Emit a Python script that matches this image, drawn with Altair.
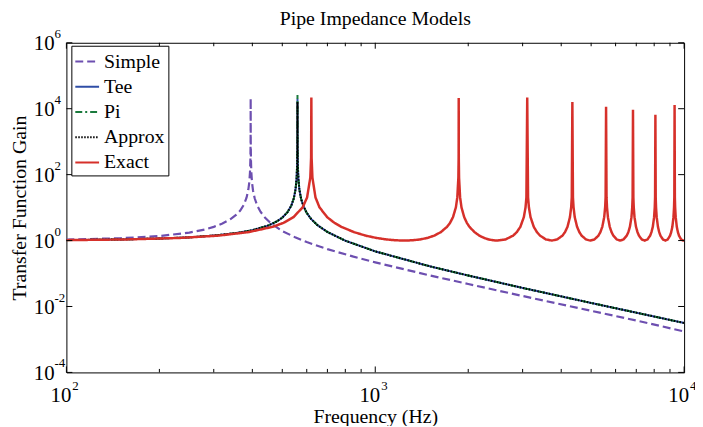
import altair as alt
import pandas as pd

SERIF = "Liberation Serif"

models = ["Simple", "Tee", "Pi", "Approx", "Exact"]
colors = ["#6d4fb0", "#2f4ea6", "#1a7a3c", "#000000", "#d6302a"]
dashes = [[8, 4], [1, 0], [7, 3, 2, 3], [1.5, 1.5], [1, 0]]
widths = [2.2, 2.0, 2.0, 2.0, 2.5]

# ---- Simple model (single resonance near 395 Hz)
simple_freq = [100, 150, 200, 250, 280, 300, 320, 340, 355, 365, 375, 383, 388, 391, 393, 394.2, 394.8,
               395,
               395.2, 395.8, 397, 399, 402, 407, 415, 425, 440, 460, 500, 550, 600, 700, 850, 1000,
               1500, 2000, 3000, 5000, 7000, 10000]
simple_gain = [1.07, 1.18, 1.37, 1.74, 2.15, 2.6, 3.3, 4.5, 6.1, 8.0, 12, 20, 34, 59, 118, 295, 1180,
               21000,
               1180, 295, 117, 58, 33, 19.2, 11.4, 7.5, 4.9, 3.3, 1.95, 1.26, 0.9, 0.55, 0.325, 0.218,
               0.088, 0.048, 0.0208, 0.0074, 0.00376, 0.00175]

# ---- Lumped models (Tee, Pi, Approx overlap; resonance near 560 Hz)
lumped_freq = [100, 150, 200, 250, 300, 350, 400, 450, 480, 500, 520, 535, 545, 552, 556, 558.5, 559.6,
               560,
               560.4, 561.5, 564, 568, 575, 585, 600, 620, 650, 700, 800, 1000, 1500, 2000, 3000,
               5000, 7000, 10000]
lumped_left = [1.03, 1.08, 1.15, 1.25, 1.42, 1.66, 2.06, 2.85, 3.8, 4.95, 7.3, 11.6, 19.2, 36, 72, 190, 700]
lumped_right = [700, 190, 71, 35.5, 18.8, 11.2, 6.9, 4.5, 2.93, 1.82, 0.99, 0.47, 0.166, 0.087, 0.0366,
                0.0128, 0.0065, 0.00316]
tee_peak = 20000
pi_peak = 26000
approx_peak = 16000

# ---- Exact model (odd harmonics of ~621 Hz)
exact_freq = [
    100, 155.3, 232.9, 310.5, 388.1, 465.8, 504.6, 543.4, 582.2, 601.6, 616.2, 619.8, 621,
    622.2, 625.9, 640.4, 659.8, 698.6, 737.4, 776.3, 853.9, 931.5, 1009.1, 1086.8, 1164.4, 1242,
    1319.6, 1397.3, 1474.9, 1552.5, 1630.1, 1707.8, 1746.6, 1785.4, 1824.2, 1843.6, 1858.2, 1861.8, 1863,
    1864.2, 1867.9, 1882.4, 1901.8, 1940.6, 1979.4, 2018.3, 2095.9, 2173.5, 2251.1, 2328.8, 2406.4, 2484,
    2639.3, 2794.5, 2872.1, 2949.8, 3027.4, 3066.2, 3085.6, 3105,
    3124.4, 3143.8, 3182.6, 3260.3, 3337.9, 3415.5, 3570.8, 3726,
    3881.3, 4036.5, 4114.1, 4191.8, 4269.4, 4308.2, 4327.6, 4347,
    4366.4, 4385.8, 4424.6, 4502.3, 4579.9, 4657.5, 4812.8, 4968,
    5123.3, 5278.5, 5356.1, 5433.8, 5511.4, 5550.2, 5569.6, 5589,
    5608.4, 5627.8, 5666.6, 5744.3, 5821.9, 5899.5, 6054.8, 6210,
    6365.3, 6520.5, 6598.1, 6675.8, 6753.4, 6792.2, 6811.6, 6831,
    6850.4, 6869.8, 6908.6, 6986.3, 7063.9, 7141.5, 7296.8, 7452,
    7607.3, 7762.5, 7840.1, 7917.8, 7995.4, 8034.2, 8053.6, 8073,
    8092.4, 8111.8, 8150.6, 8228.3, 8305.9, 8383.5, 8538.8, 8694,
    8849.3, 9004.5, 9082.1, 9159.8, 9237.4, 9276.2, 9295.6, 9315,
    9334.4, 9353.8, 9392.6, 9470.3, 9547.9, 9625.5, 9780.8, 9936, 10000]
exact_gain = [
    1.03, 1.08, 1.20, 1.41, 1.80, 2.61, 3.45, 5.13, 10.2, 20.4, 81.5, 326, 22000,
    326, 81.5, 20.4, 10.2, 5.13, 3.45, 2.61, 1.80, 1.41, 1.20, 1.08, 1.02, 1.00,
    1.02, 1.08, 1.20, 1.41, 1.80, 2.61, 3.45, 5.13, 10.2, 20.4, 81.5, 326, 21000,
    326, 81.5, 20.4, 10.2, 5.13, 3.45, 2.61, 1.80, 1.41, 1.20, 1.08, 1.02, 1.00,
    1.08, 1.41, 1.80, 2.61, 5.13, 10.2, 20.4, 22000,
    20.4, 10.2, 5.13, 2.61, 1.80, 1.41, 1.08, 1.00,
    1.08, 1.41, 1.80, 2.61, 5.13, 10.2, 20.4, 16000,
    20.4, 10.2, 5.13, 2.61, 1.80, 1.41, 1.08, 1.00,
    1.08, 1.41, 1.80, 2.61, 5.13, 10.2, 20.4, 11500,
    20.4, 10.2, 5.13, 2.61, 1.80, 1.41, 1.08, 1.00,
    1.08, 1.41, 1.80, 2.61, 5.13, 10.2, 20.4, 9300,
    20.4, 10.2, 5.13, 2.61, 1.80, 1.41, 1.08, 1.00,
    1.08, 1.41, 1.80, 2.61, 5.13, 10.2, 20.4, 6600,
    20.4, 10.2, 5.13, 2.61, 1.80, 1.41, 1.08, 1.00,
    1.08, 1.41, 1.80, 2.61, 5.13, 10.2, 20.4, 13000,
    20.4, 10.2, 5.13, 2.61, 1.80, 1.41, 1.08, 1.00, 1.01]

# ---- axis ticks / labels
x_major = [100, 1000, 10000]
x_major_exp = ["2", "3", "4"]
x_minor = [200, 300, 400, 500, 600, 700, 800, 900, 2000, 3000, 4000, 5000, 6000, 7000, 8000, 9000]
y_major = [1e-4, 1e-2, 1, 1e2, 1e4, 1e6]
y_major_exp = ["-4", "-2", "0", "2", "4", "6"]

series_data = {
    "Simple": (simple_freq, simple_gain),
    "Tee": (lumped_freq, lumped_left + [tee_peak] + lumped_right),
    "Pi": (lumped_freq, lumped_left + [pi_peak] + lumped_right),
    "Approx": (lumped_freq, lumped_left + [approx_peak] + lumped_right),
    "Exact": (exact_freq, exact_gain),
}
rows = []
for name, (fr, gn) in series_data.items():
    assert len(fr) == len(gn), name
    for f, g in zip(fr, gn):
        rows.append({"model": name, "freq": f, "gain": g})
df = pd.DataFrame(rows)

W, H = 624, 333
xs = alt.Scale(type="log", domain=[100, 10000], nice=False)
ys = alt.Scale(type="log", domain=[1e-4, 1e6], nice=False)
cs = alt.Scale(domain=models, range=colors)
ds = alt.Scale(domain=models, range=dashes)

xaxis = alt.Axis(labels=False, ticks=False, domain=False, grid=False, title="Frequency (Hz)",
                 titleFont=SERIF, titleFontSize=20, titleFontWeight="normal", titleColor="black",
                 titlePadding=35)
yaxis = alt.Axis(labels=False, ticks=False, domain=False, grid=False, title="Transfer Function Gain",
                 titleFont=SERIF, titleFontSize=20, titleFontWeight="normal", titleColor="black",
                 titlePadding=37)
leg = alt.Legend(title=None, orient="none", legendX=5, legendY=3,
                 fillColor="white", strokeColor="black", padding=3,
                 labelFont=SERIF, labelFontSize=20, labelColor="black",
                 symbolType="stroke", symbolSize=576, symbolStrokeWidth=2,
                 rowPadding=2.5, labelOffset=4, labelLimit=200)

layers = []
for name, w in zip(models, widths):
    layers.append(
        alt.Chart(df).transform_filter(alt.datum.model == name)
        .mark_line(strokeWidth=w, clip=True)
        .encode(
            x=alt.X("freq:Q", scale=xs, axis=xaxis),
            y=alt.Y("gain:Q", scale=ys, axis=yaxis),
            color=alt.Color("model:N", scale=cs, legend=leg),
            strokeDash=alt.StrokeDash("model:N", scale=ds, legend=leg),
        )
    )

xmaj = pd.DataFrame({"v": x_major, "e": x_major_exp})
xmin = pd.DataFrame({"v": x_minor})
ymaj = pd.DataFrame({"v": y_major, "e": y_major_exp})

def xrule(data, y0, y1):
    return alt.Chart(data).mark_rule(color="black", strokeWidth=1).encode(
        x=alt.X("v:Q", scale=xs, axis=xaxis), y=alt.value(y0), y2=alt.value(y1))

def yrule(data, x0, x1):
    return alt.Chart(data).mark_rule(color="black", strokeWidth=1).encode(
        y=alt.Y("v:Q", scale=ys, axis=yaxis), x=alt.value(x0), x2=alt.value(x1))

ticks = [
    xrule(xmaj, H, H - 6), xrule(xmaj, 0, 6),
    xrule(xmin, H, H - 3.5), xrule(xmin, 0, 3.5),
    yrule(ymaj, 0, 6), yrule(ymaj, W - 6, W),
]

ylab10 = alt.Chart(ymaj).mark_text(text="10", font=SERIF, fontSize=21, align="right",
                                   baseline="alphabetic", dy=7.5, color="black").encode(
    y=alt.Y("v:Q", scale=ys, axis=yaxis), x=alt.value(-12))
ylabexp = alt.Chart(ymaj).mark_text(font=SERIF, fontSize=13, align="left",
                                    baseline="alphabetic", dy=-5, color="black").encode(
    y=alt.Y("v:Q", scale=ys, axis=yaxis), x=alt.value(-12), text="e:N")
xlab10 = alt.Chart(xmaj).mark_text(text="10", font=SERIF, fontSize=21, align="right",
                                   baseline="alphabetic", dx=5, color="black").encode(
    x=alt.X("v:Q", scale=xs, axis=xaxis), y=alt.value(H + 30))
xlabexp = alt.Chart(xmaj).mark_text(font=SERIF, fontSize=13, align="left",
                                    baseline="alphabetic", dx=6, color="black").encode(
    x=alt.X("v:Q", scale=xs, axis=xaxis), y=alt.value(H + 18), text="e:N")

chart = alt.layer(*layers, *ticks, ylab10, ylabexp, xlab10, xlabexp).properties(
    width=W, height=H,
    title=alt.TitleParams(text="Pipe Impedance Models", font=SERIF, fontSize=20, fontWeight="normal",
                          color="black", anchor="middle", frame="group", baseline="alphabetic",
                          offset=-17),
    autosize=alt.AutoSizeParams(type="none"),
    padding={"left": 59, "top": 33, "right": 11, "bottom": 52},
).configure(background="white").configure_view(stroke="black", strokeWidth=1)

chart.save("out.html", embed_options={"renderer": "svg", "actions": False})
